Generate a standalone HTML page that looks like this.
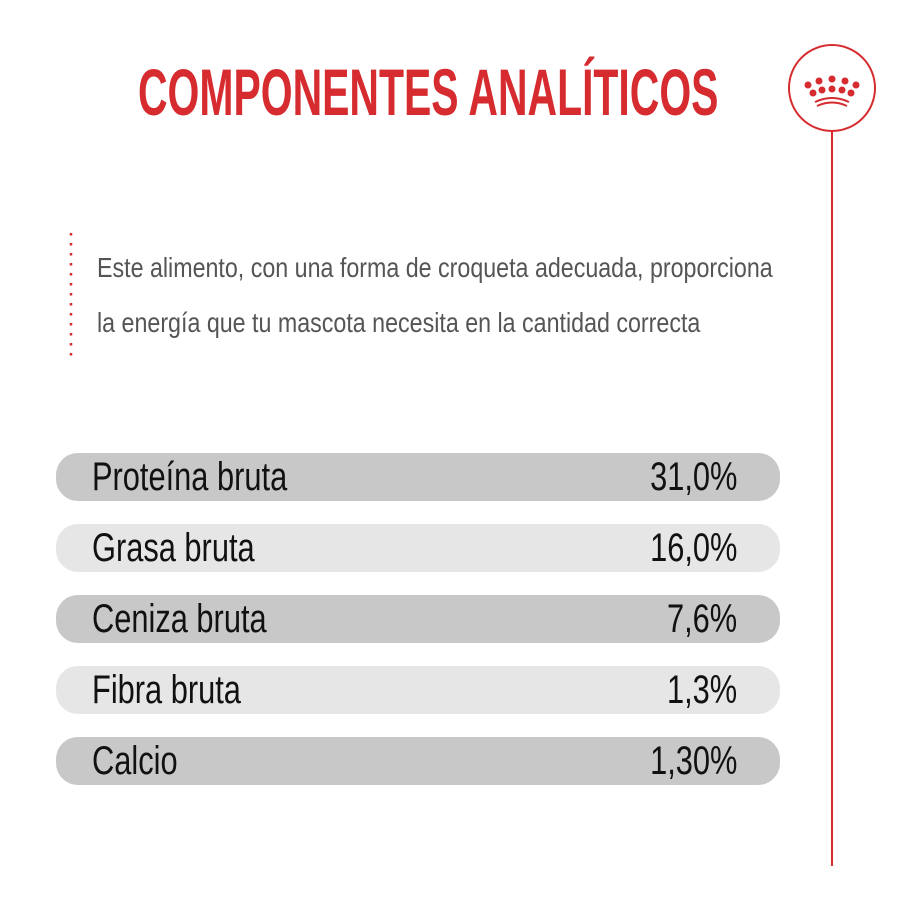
<!DOCTYPE html>
<html><head><meta charset="utf-8"><style>
body{margin:0;width:900px;height:900px;background:#fff;position:relative;overflow:hidden;font-family:"Liberation Sans Narrow","Liberation Sans",sans-serif}
.t{position:absolute;white-space:nowrap;transform-origin:0 0}
.bar{position:absolute;left:56px;width:724px;height:48px;border-radius:22px}
.d{background:#c9c8c9}.l{background:#e7e6e7}
.lab{position:absolute;left:92px;font-size:40px;color:#111;white-space:nowrap;transform:scaleX(.77);transform-origin:0 50%;line-height:48px}
.val{position:absolute;right:163px;font-size:40px;color:#111;white-space:nowrap;transform:scaleX(.77);transform-origin:100% 50%;line-height:48px}
</style></head><body>
<div class="t" style="left:138px;top:54px;font-size:66px;font-weight:bold;color:#d62b2f;transform:scaleX(.62)">COMPONENTES ANALÍTICOS</div>
<svg style="position:absolute;left:0;top:0" width="900" height="900">
<circle cx="832" cy="88" r="43" fill="none" stroke="#d62b2f" stroke-width="2"/>
<line x1="832" y1="131" x2="832" y2="866" stroke="#d62b2f" stroke-width="2"/>
<g fill="#d62b2f">
<circle cx="808" cy="85" r="3.5"/><circle cx="819" cy="81" r="3.5"/><circle cx="832" cy="79" r="3.5"/><circle cx="845" cy="81" r="3.5"/><circle cx="856" cy="85" r="3.5"/>
<circle cx="813" cy="93" r="3.5"/><circle cx="822" cy="90" r="3.5"/><circle cx="832" cy="89" r="3.5"/><circle cx="842" cy="90" r="3.5"/><circle cx="851" cy="93" r="3.5"/>
</g>
<path d="M815 102 Q832 94 849 102" fill="none" stroke="#d62b2f" stroke-width="2"/>
<path d="M817 106 Q832 99 847 106" fill="none" stroke="#d62b2f" stroke-width="2"/>
<line x1="71" y1="233" x2="71" y2="356" stroke="#d62b2f" stroke-width="2.5" stroke-dasharray="2.5 7.5"/>
</svg>
<div class="t" style="left:97px;top:252px;font-size:28px;color:#555;transform:scaleX(.83)">Este alimento, con una forma de croqueta adecuada, proporciona</div>
<div class="t" style="left:97px;top:307px;font-size:28px;color:#555;transform:scaleX(.83)">la energía que tu mascota necesita en la cantidad correcta</div>
<div class="bar d" style="top:453px"></div><div class="lab" style="top:453px">Proteína bruta</div><div class="val" style="top:453px">31,0%</div>
<div class="bar l" style="top:524px"></div><div class="lab" style="top:524px">Grasa bruta</div><div class="val" style="top:524px">16,0%</div>
<div class="bar d" style="top:595px"></div><div class="lab" style="top:595px">Ceniza bruta</div><div class="val" style="top:595px">7,6%</div>
<div class="bar l" style="top:666px"></div><div class="lab" style="top:666px">Fibra bruta</div><div class="val" style="top:666px">1,3%</div>
<div class="bar d" style="top:737px"></div><div class="lab" style="top:737px">Calcio</div><div class="val" style="top:737px">1,30%</div>
</body></html>
